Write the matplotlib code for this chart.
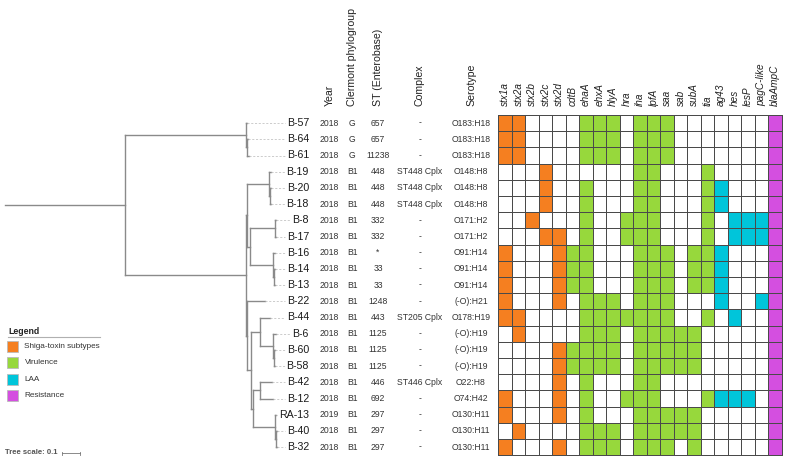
import numpy as np
import matplotlib
matplotlib.use('Agg')
from matplotlib import pyplot as plt
from matplotlib.colors import ListedColormap
from matplotlib.patches import Rectangle

plt.rcParams['font.family'] = ['Liberation Sans', 'DejaVu Sans']

# tree (branch lengths in substitutions/site, tips in row order)
newick = ("((B-57:0.004,(B-64:0.003,B-61:0.006):0.008):0.672,"
          "(((B-19:0.011,(B-20:0.008,B-18:0.008):0.003):0.124,"
          "((B-8:0.008,B-17:0.008):0.139,(B-16:0.011,(B-14:0.008,B-13:0.008):0.003):0.128):0.018):0.004,"
          "(B-22:0.100,((B-44:0.056,(B-6:0.017,(B-60:0.008,B-58:0.008):0.003):0.072):0.050,"
          "((B-42:0.067,B-12:0.072):0.041,(RA-13:0.008,(B-40:0.008,B-32:0.008):0.003):0.124):0.009):0.022):0.006):0.672):0.667;")

years = ['2018'] * 18 + ['2019', '2018', '2018']
phylogroup = ['G', 'G', 'G'] + ['B1'] * 18
st = ['657', '657', '11238', '448', '448', '448', '332', '332', '*', '33', '33',
      '1248', '443', '1125', '1125', '1125', '446', '692', '297', '297', '297']
cplx = ['-', '-', '-', 'ST448 Cplx', 'ST448 Cplx', 'ST448 Cplx', '-', '-', '-', '-', '-',
        '-', 'ST205 Cplx', '-', '-', '-', 'ST446 Cplx', '-', '-', '-', '-']
serotype = ['O183:H18', 'O183:H18', 'O183:H18', 'O148:H8', 'O148:H8', 'O148:H8',
            'O171:H2', 'O171:H2', 'O91:H14', 'O91:H14', 'O91:H14', '(-O):H21',
            'O178:H19', '(-O):H19', '(-O):H19', '(-O):H19', 'O22:H8', 'O74:H42',
            'O130:H11', 'O130:H11', 'O130:H11']
table_cols = [years, phylogroup, st, cplx, serotype]
table_heads = ['Year', 'Clermont phylogroup', 'ST (Enterobase)', 'Complex', 'Serotype']

genes = ['stx1a', 'stx2a', 'stx2b', 'stx2c', 'stx2d', 'cdtB', 'ehaA', 'ehxA', 'hlyA', 'hra',
         'iha', 'lpfA', 'saa', 'sab', 'subA', 'tia', 'ag43', 'hes', 'lesP', 'pagC-like', 'blaAmpC']
# 1 = Shiga-toxin, 2 = virulence, 3 = LAA, 4 = resistance
gene_class = [1] * 5 + [2] * 11 + [3] * 4 + [4]
presence = [
    '110000111011100000001',  # B-57
    '110000111011100000001',  # B-64
    '110000111011100000001',  # B-61
    '000100000011000100001',  # B-19
    '000100100011000110001',  # B-20
    '000100100011000110001',  # B-18
    '001000100111000101111',  # B-8
    '000110100111000101111',  # B-17
    '100011100011101110001',  # B-16
    '100011100011101110001',  # B-14
    '100011100011101110001',  # B-13
    '100010111011100010011',  # B-22
    '110000111111100101001',  # B-44
    '010000111011111000001',  # B-6
    '000011111011111000001',  # B-60
    '000011111011111000001',  # B-58
    '000010100011000000001',  # B-42
    '100010100111000111101',  # B-12
    '100010100011111000001',  # RA-13
    '010000111011111000001',  # B-40
    '100010111011101000001',  # B-32
]

legend_names = ['Shiga-toxin subtypes', 'Virulence', 'LAA', 'Resistance']
class_colors = ['#f57f20', '#97d83c', '#00c5da', '#d44fe0']


def parse(s):
    pos = 0

    def node():
        nonlocal pos
        kids = []
        if s[pos] == '(':
            pos += 1
            while True:
                kids.append(node())
                if s[pos] == ',':
                    pos += 1
                    continue
                pos += 1
                break
        name = ''
        while s[pos] not in ':,);':
            name += s[pos]
            pos += 1
        ln = 0.0
        if s[pos] == ':':
            pos += 1
            num = ''
            while s[pos] not in ',);':
                num += s[pos]
                pos += 1
            ln = float(num)
        return {'name': name, 'children': kids, 'len': ln}
    return node()


# layout (pixels)
W, H = 788, 463
row_h = 16.2
y0 = 115.0
px_per_unit = 180.0
root_x = 5.0
lab_right = 309.0
col_x = [329.5, 352.5, 378, 420, 471]
hx0 = 498.3
cw = 13.5
head_y = 106

fig = plt.figure(figsize=(W / 100, H / 100), dpi=100)
ax = fig.add_axes([0, 0, 1, 1])
ax.set_xlim(0, W)
ax.set_ylim(H, 0)
ax.axis('off')

tree = parse(newick)
tips = []


def layout(n, x):
    n['x'] = x
    if not n['children']:
        n['y'] = y0 + row_h * (len(tips) + 0.5)
        tips.append(n)
        return
    for c in n['children']:
        layout(c, x + c['len'] * px_per_unit)
    n['y'] = (n['children'][0]['y'] + n['children'][-1]['y']) / 2


layout(tree, root_x + tree['len'] * px_per_unit)
tcol = '#8a8a8a'
ax.plot([root_x, tree['x']], [tree['y'], tree['y']], color=tcol, lw=1)


def draw(n):
    if not n['children']:
        return
    ax.plot([n['x'], n['x']], [n['children'][0]['y'], n['children'][-1]['y']], color=tcol, lw=1)
    for c in n['children']:
        ax.plot([n['x'], c['x']], [c['y'], c['y']], color=tcol, lw=1)
        draw(c)


draw(tree)

# tip labels + dashed leaders
fig.canvas.draw()
rend = fig.canvas.get_renderer()
inv = ax.transData.inverted()
for t in tips:
    txt = ax.text(lab_right, t['y'], t['name'], ha='right', va='center', fontsize=7.7, color='#1a1a1a')
    bb = txt.get_window_extent(rend)
    left = inv.transform((bb.x0, bb.y0))[0]
    ax.plot([t['x'], left - 2], [t['y'], t['y']], color='#c4c4c4', lw=0.6, ls=(0, (2.5, 2)))

# metadata table
for head, vals, x in zip(table_heads, table_cols, col_x):
    ax.text(x, head_y, head, rotation=90, ha='center', va='bottom', fontsize=7.6, color='#222222')
    for i, v in enumerate(vals):
        ax.text(x, y0 + row_h * (i + 0.5), v, ha='center', va='center', fontsize=6.2, color='#333333')

# heatmap
mat = np.array([[int(ch) * gene_class[j] for j, ch in enumerate(r)] for r in presence])
xe = hx0 + cw * np.arange(len(genes) + 1)
ye = y0 + row_h * np.arange(len(presence) + 1)
cmap = ListedColormap(['white'] + class_colors)
ax.pcolormesh(xe, ye, mat, cmap=cmap, vmin=-0.5, vmax=4.5, edgecolors='#4a4a4a', linewidth=0.7)
for j, g in enumerate(genes):
    ax.text(hx0 + cw * (j + 0.5), head_y, g, rotation=90, ha='center', va='bottom',
            fontsize=7.2, style='italic', color='#222222')

# legend
ax.text(8, 331, 'Legend', fontsize=6.3, fontweight='bold', va='center', color='#222222')
ax.plot([8, 100], [337, 337], color='#b0b0b0', lw=0.8)
for k, (nm, c) in enumerate(zip(legend_names, class_colors)):
    cy = 346.7 + 16.2 * k
    ax.add_patch(Rectangle((7.5, cy - 5.5), 11, 11, facecolor=c, edgecolor='#bbbbbb', lw=0.6))
    ax.text(24.5, cy, nm, fontsize=5.9, va='center', color='#333333')

# tree scale
ax.text(5, 453, 'Tree scale: 0.1', fontsize=5.6, fontweight='bold', va='center', color='#555555')
sx = 62
ax.plot([sx, sx + 0.1 * px_per_unit], [453, 453], color='#777777', lw=0.6)
ax.plot([sx, sx], [451.5, 454.5], color='#777777', lw=0.6)
ax.plot([sx + 0.1 * px_per_unit] * 2, [451.5, 454.5], color='#777777', lw=0.6)

fig.savefig('out.png', dpi=100)
